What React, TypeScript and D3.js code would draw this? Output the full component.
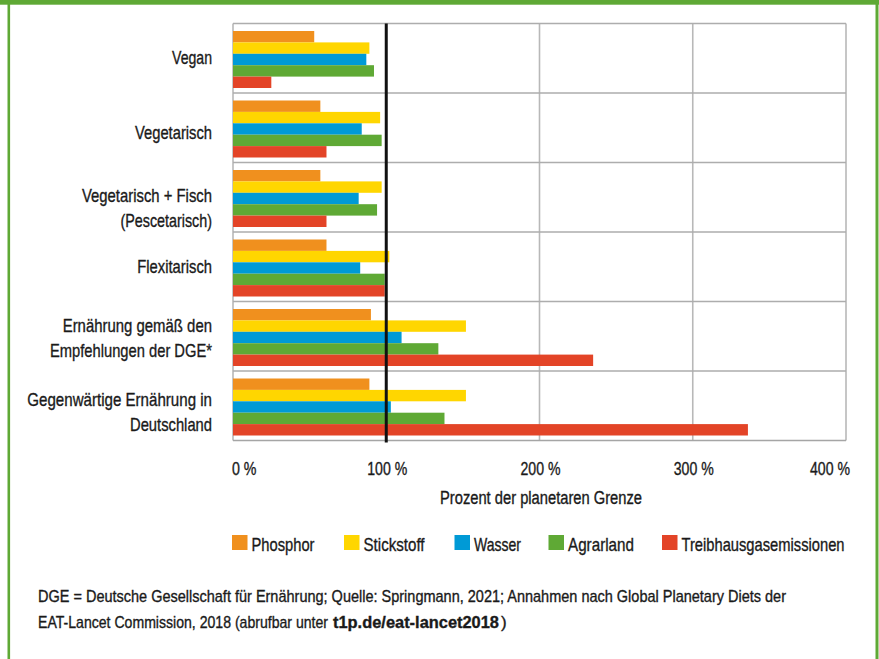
import React from "react";
import * as d3 from "d3";

const categories: string[][] = [
  ["Vegan"],
  ["Vegetarisch"],
  ["Vegetarisch + Fisch", "(Pescetarisch)"],
  ["Flexitarisch"],
  ["Ernährung gemäß den", "Empfehlungen der DGE*"],
  ["Gegenwärtige Ernährung in", "Deutschland"],
];
const seriesNames = ["Phosphor", "Stickstoff", "Wasser", "Agrarland", "Treibhausgasemissionen"];
const phosphor = [53, 57, 57, 61, 90, 89];
const stickstoff = [89, 96, 97, 102, 152, 152];
const wasser = [87, 84, 82, 83, 110, 103];
const agrarland = [92, 97, 94, 99, 134, 138];
const treibhaus = [25, 61, 61, 99, 235, 336];
const seriesValues = [phosphor, stickstoff, wasser, agrarland, treibhaus];
const xTicks = [0, 100, 200, 300, 400];
const xTitle = "Prozent der planetaren Grenze";
const footer1 = "DGE = Deutsche Gesellschaft für Ernährung; Quelle: Springmann, 2021; Annahmen nach Global Planetary Diets der";
const footer2a = "EAT-Lancet Commission, 2018 (abrufbar unter";
const footer2b = "t1p.de/eat-lancet2018";
const footer2c = ")";

// layout (measured widths of the condensed type in the reference, and label nudges)
const catWidths: number[][] = [[40], [77], [130, 91.5], [74.7], [149.3, 162], [184.7, 82]];
const catShift = [-1.2, 4.3, 4.5, -1, -4.5, 0];
const legendX = [232, 344, 454.5, 548.5, 662];
const legendW = [63, 61, 47, 66, 163];

const colors = ["#F0901E", "#FFD600", "#009AD6", "#5FA935", "#E34427"];
const FONT = "'Liberation Sans', Arial, sans-serif";
const TEXT = "#1a1a1a";
const SW = 0.35;

export default function App() {
  const W = 879, H = 659;
  const left = 233, right = 846, top = 23.5, bottom = 440.5;
  const x = d3.scaleLinear().domain([0, 400]).range([left, right]);
  const y = d3.scaleBand<number>().domain(categories.map((_, i) => i)).range([top, bottom]).padding(0);
  const bw = y.bandwidth();
  const inner = d3.scaleBand<number>().domain(seriesNames.map((_, i) => i)).range([7.5, bw - 5]).padding(0);

  const txt = { fill: TEXT, stroke: TEXT, strokeWidth: SW, lengthAdjust: "spacingAndGlyphs" as const };

  return (
    <svg width={W} height={H} style={{ position: "absolute", left: 0, top: 0, background: "#fff" }} fontFamily={FONT}>
      <rect x={0} y={0} width={W} height={H} fill="#fff" />
      {/* frame */}
      <rect x={0} y={0} width={W} height={4.7} fill="#5FA935" />
      <rect x={7.5} y={0} width={2.6} height={H} fill="#5FA935" />
      <rect x={875.5} y={0} width={3} height={H} fill="#5FA935" />

      {/* grid */}
      {xTicks.map((t) => (
        <line key={"v" + t} x1={x(t)} x2={x(t)} y1={top} y2={bottom} stroke="#b8b8b8" strokeWidth={1.6} />
      ))}
      {categories.map((_, i) => (
        <line key={"h" + i} x1={left} x2={right} y1={y(i)!} y2={y(i)!} stroke="#adadad" strokeWidth={1.6} />
      ))}
      <line x1={left} x2={right} y1={bottom} y2={bottom} stroke="#a5a5a5" strokeWidth={1.6} />

      {/* bars */}
      {categories.map((_, ci) =>
        seriesValues.map((vals, si) => (
          <rect
            key={ci + "-" + si}
            x={x(0)}
            y={y(ci)! + inner(si)!}
            width={x(vals[ci]) - x(0)}
            height={inner.bandwidth()}
            fill={colors[si]}
          />
        ))
      )}

      {/* 100% reference line */}
      <line x1={x(100)} x2={x(100)} y1={top} y2={bottom + 2} stroke="#111" strokeWidth={3} />

      {/* category labels */}
      {categories.map((lines, i) => {
        const cy = y(i)! + bw / 2;
        const lh = 25;
        const base = (lines.length > 1 ? cy : cy + 7) + catShift[i];
        return lines.map((l, j) => (
          <text
            key={"c" + i + "-" + j}
            x={212}
            y={base + j * lh}
            textAnchor="end"
            fontSize={19}
            textLength={catWidths[i][j]}
            {...txt}
          >
            {l}
          </text>
        ));
      })}

      {/* x tick labels */}
      {xTicks.map((t, i) => (
        <text
          key={"t" + t}
          x={i === 0 ? x(t) - 1 : i === xTicks.length - 1 ? x(t) + 4 : x(t) + 1}
          y={475}
          fontSize={18}
          textAnchor={i === 0 ? "start" : i === xTicks.length - 1 ? "end" : "middle"}
          textLength={i === 0 ? 24.5 : 40}
          {...txt}
        >
          {t + " %"}
        </text>
      ))}
      <text x={(left + right) / 2 + 1.5} y={504} fontSize={18} textAnchor="middle" textLength={202} {...txt}>
        {xTitle}
      </text>

      {/* legend */}
      {seriesNames.map((n, i) => (
        <g key={"l" + i}>
          <rect x={legendX[i]} y={535} width={15.5} height={15} fill={colors[i]} />
          <text x={legendX[i] + 19.5} y={550.5} fontSize={19} textLength={legendW[i]} {...txt}>
            {n}
          </text>
        </g>
      ))}

      {/* footer */}
      <text x={38} y={602} fontSize={17} textLength={748} {...txt}>
        {footer1}
      </text>
      <text x={38} y={628} fontSize={17} textLength={290} {...txt}>
        {footer2a}
      </text>
      <text x={333} y={628} fontSize={17} fontWeight="bold" textLength={166} {...txt}>
        {footer2b}
      </text>
      <text x={501} y={628} fontSize={17} fill={TEXT} stroke={TEXT} strokeWidth={SW}>
        {footer2c}
      </text>
    </svg>
  );
}
